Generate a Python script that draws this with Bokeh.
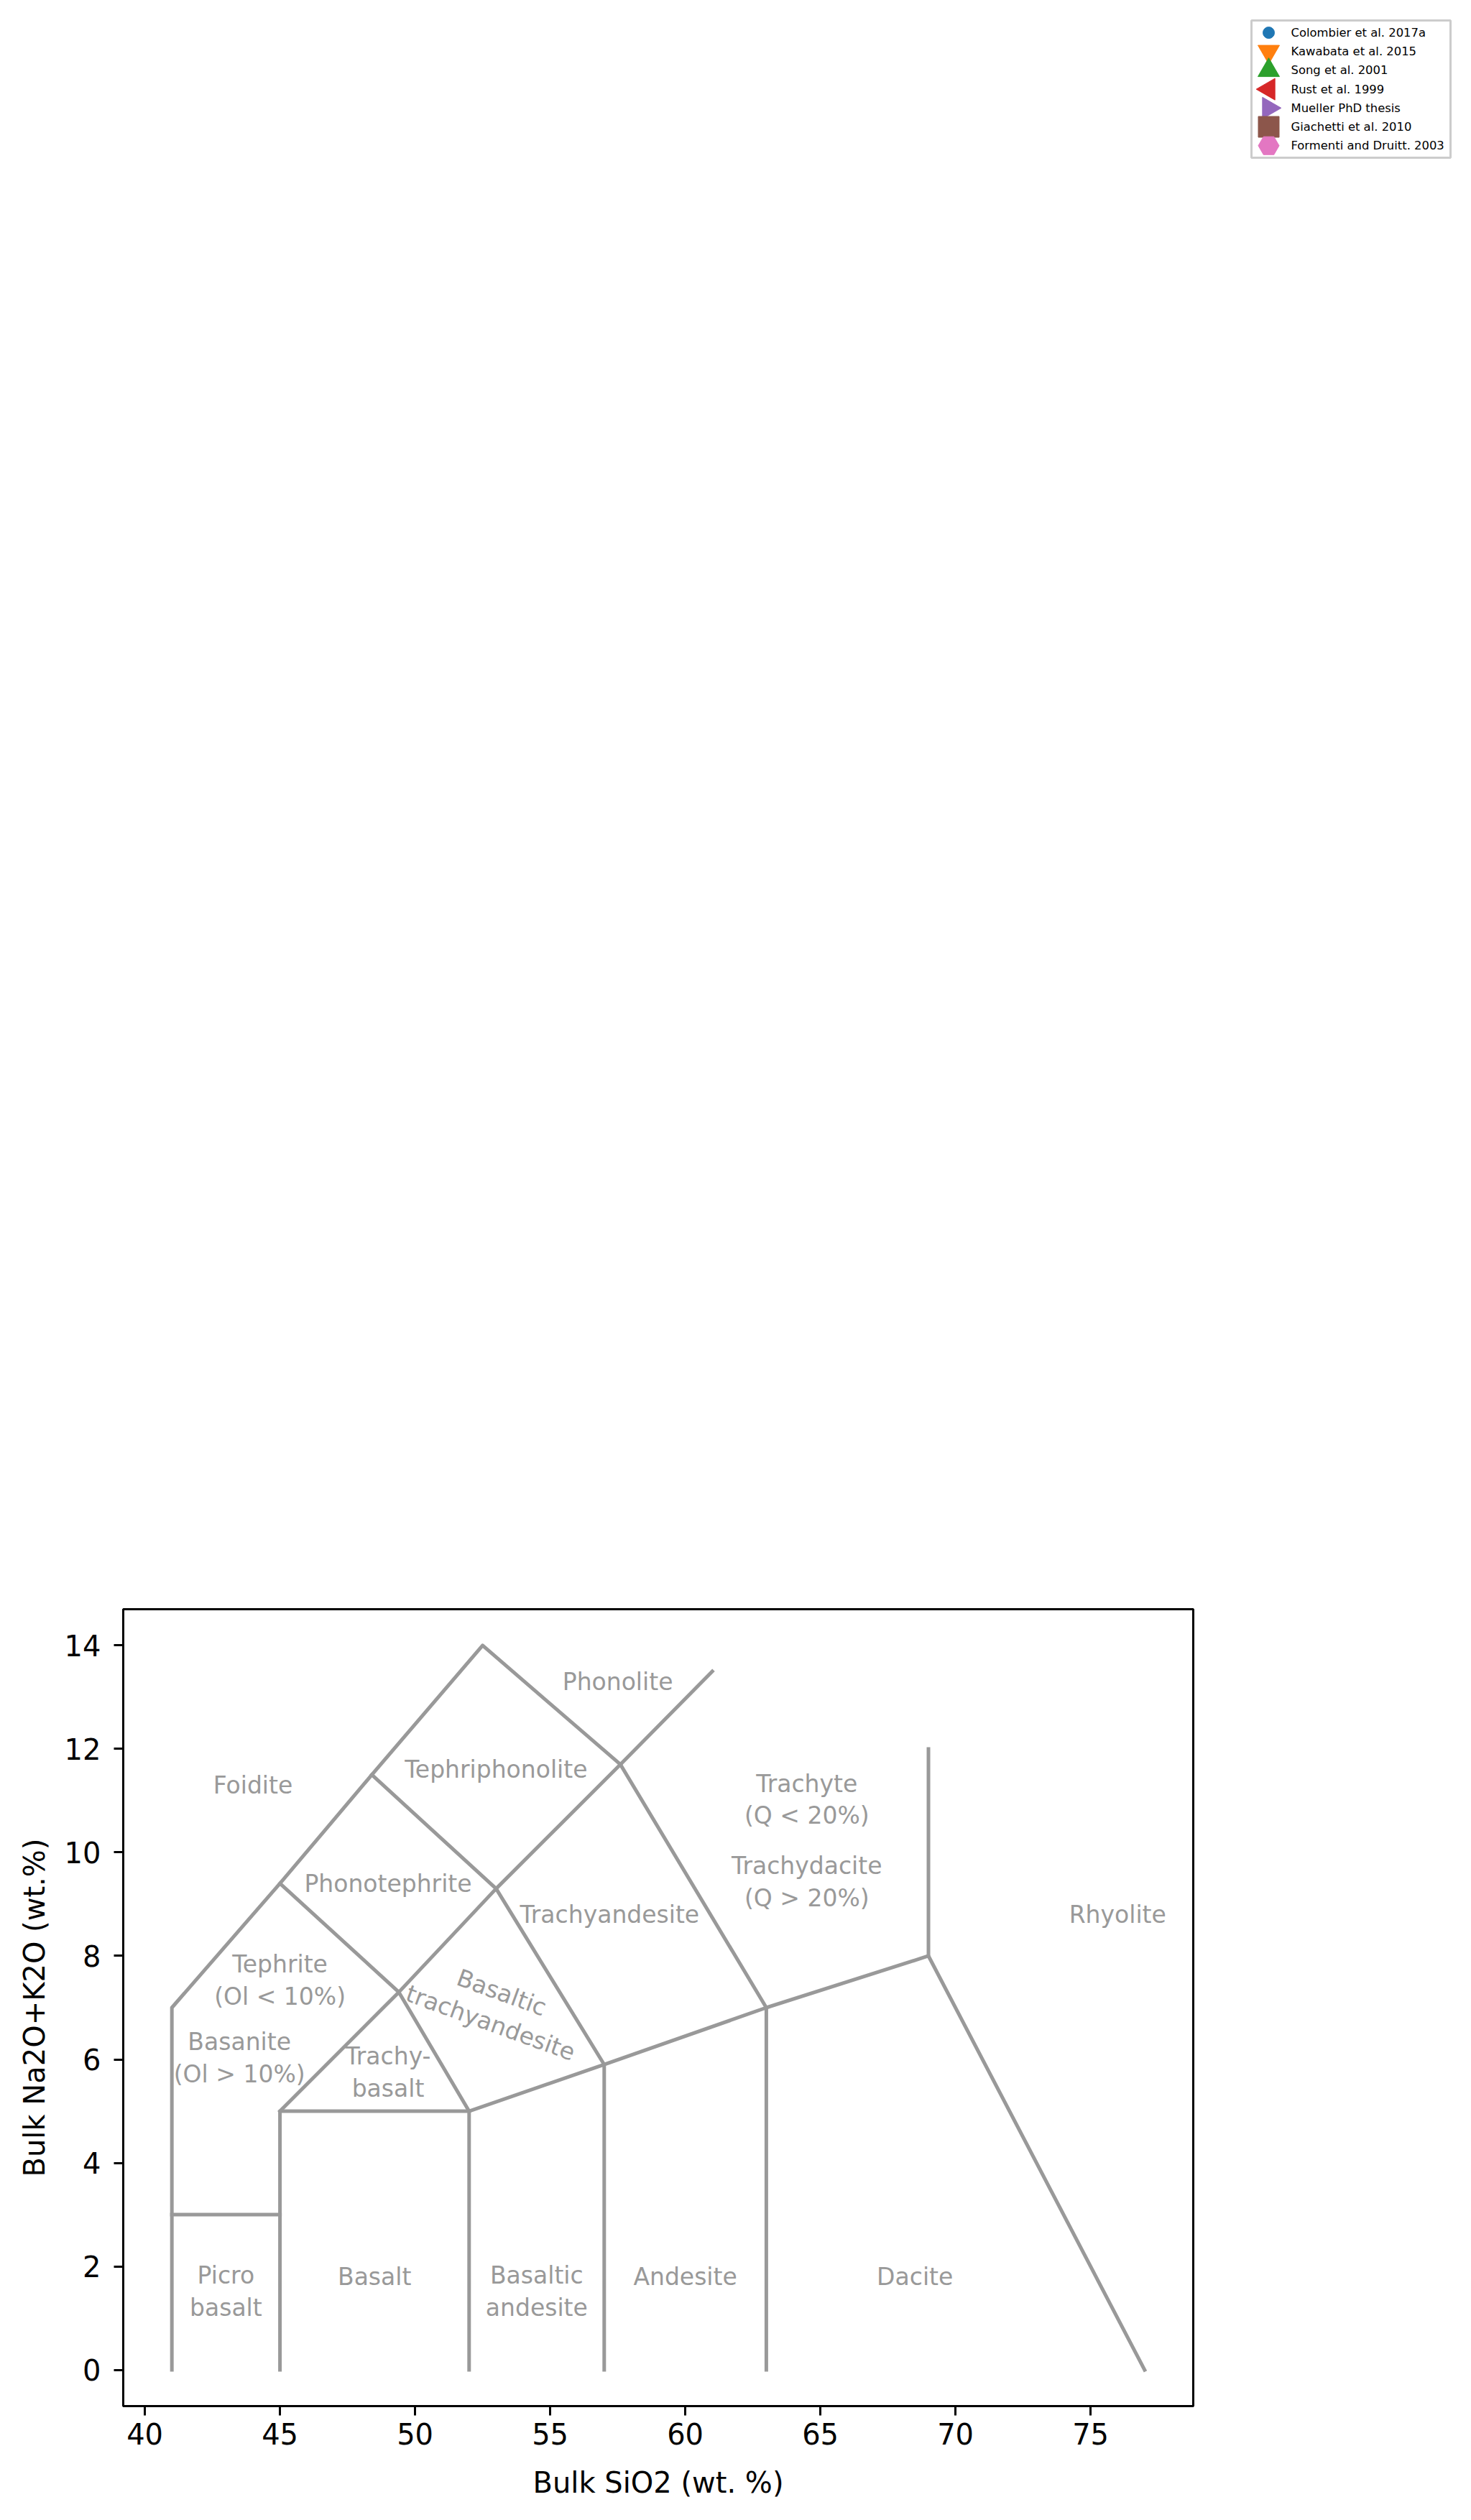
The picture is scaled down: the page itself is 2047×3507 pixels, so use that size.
import math
from bokeh.plotting import figure
from bokeh.layouts import column, row
from bokeh.models import Range1d, FixedTicker, Spacer
from bokeh.core.properties import value
from bokeh.embed import file_html
from bokeh.resources import INLINE

# ---- TAS classification boundaries (SiO2 wt.%, Na2O+K2O wt.%) ----
boundary_sio2 = [
    [41, 41, 45, 48.4, 52.5, 57.6],
    [41, 45],
    [45, 45, 52, 52],
    [45, 49.4, 53, 57.6, 61],
    [45, 49.4, 52],
    [48.4, 53, 57, 57],
    [52, 57, 63, 69, 77],
    [57.6, 63, 63],
    [69, 69],
]
boundary_alk = [
    [0, 7, 9.4, 11.5, 14, 11.7],
    [3, 3],
    [0, 5, 5, 0],
    [5, 7.3, 9.3, 11.7, 13.5],
    [9.4, 7.3, 5],
    [11.5, 9.3, 5.9, 0],
    [5, 5.9, 7, 8, 0],
    [11.7, 7, 0],
    [8, 12],
]

# ---- field names ----
rock_names = ["Foidite", "Tephriphonolite", "Phonolite", "Phonotephrite",
              "Tephrite\n(Ol < 10%)", "Basanite\n(Ol > 10%)", "Trachy-\nbasalt",
              "Trachyandesite", "Trachyte\n(Q < 20%)", "Trachydacite\n(Q > 20%)",
              "Rhyolite", "Picro\nbasalt", "Basalt", "Basaltic\nandesite",
              "Andesite", "Dacite"]
name_sio2 = [44, 53, 57.5, 49, 45, 43.5, 49, 57.2, 64.5, 64.5, 76, 43, 48.5, 54.5, 60, 68.5]
name_alk = [11.3, 11.6, 13.3, 9.4, 7.53, 6.03, 5.75, 8.8, 11.02, 9.43, 8.8, 1.52, 1.8, 1.52, 1.8, 1.8]

rotated_name = ["Basaltic\ntrachyandesite"]
rotated_sio2 = [53.0]
rotated_alk = [7.0]

# ---- data series (no samples are plotted in the reference) ----
series_labels = ["Colombier et al. 2017a", "Kawabata et al. 2015", "Song et al. 2001",
                 "Rust et al. 1999", "Mueller PhD thesis", "Giachetti et al. 2010",
                 "Formenti and Druitt. 2003"]
series_sio2 = [[], [], [], [], [], [], []]
series_alk = [[], [], [], [], [], [], []]

# marker styles per series
series_markers = ["circle", "inverted_triangle", "triangle", "triangle", "triangle", "square", "hex"]
series_angles = [0, 0, 0, math.pi / 2, -math.pi / 2, 0, 0]
series_sizes = [16, 30, 30, 30, 30, 29, 29]
series_colors = ["#1f77b4", "#ff7f0e", "#2ca02c", "#d62728", "#9467bd", "#8c564b", "#e377c2"]

x_ticks = [40, 45, 50, 55, 60, 65, 70, 75]
y_ticks = [0, 2, 4, 6, 8, 10, 12, 14]

FONT = "DejaVu Sans"
GREY = "#999999"

# ---- layout constants (page pixels) ----
LEG_LEFT, LEG_TOP = 1739, 26
LEG_W, LEG_H = 281, 195
TOP_H = LEG_TOP + LEG_H
FRAME_TOP = 2239

p = figure(width=2047, height=3507 - TOP_H,
           x_range=Range1d(39.2, 78.8), y_range=Range1d(-0.7, 14.7),
           output_backend="svg", toolbar_location=None,
           min_border_left=171, min_border_right=387,
           min_border_top=FRAME_TOP - TOP_H, min_border_bottom=159)
p.background_fill_color = "white"
p.border_fill_color = "white"
p.grid.visible = False
p.outline_line_color = "black"
p.outline_line_width = 3

p.multi_line(xs=boundary_sio2, ys=boundary_alk, line_color=GREY, line_width=5,
             line_join="round", line_cap="square")

p.text(x=name_sio2, y=name_alk, text=rock_names, text_font=value(FONT),
       text_font_size="33px", text_color=GREY, text_align="center",
       text_baseline="middle", text_line_height=1.15)
p.text(x=rotated_sio2, y=rotated_alk, text=rotated_name, text_font=value(FONT),
       text_font_size="33px", text_color=GREY, text_align="center",
       text_baseline="middle", text_line_height=1.15, angle=math.radians(-20))

# sample series on the diagram (empty in the reference)
for mk, ang, sz, col, xs, ys in zip(series_markers, series_angles, series_sizes,
                                     series_colors, series_sio2, series_alk):
    p.scatter(x=xs, y=ys, marker=mk, angle=ang, size=sz, fill_color=col, line_color=col)

# ---- legend box (own small canvas at the page's top right) ----
n = len(series_labels)
rows = list(range(n))
lg = figure(width=LEG_W, height=LEG_H, output_backend="svg", toolbar_location=None,
            x_axis_type=None, y_axis_type=None, min_border=2,
            x_range=Range1d(0, LEG_W - 4), y_range=Range1d(n - 0.36, -0.65))
lg.grid.visible = False
lg.outline_line_color = "#cccccc"
lg.outline_line_width = 3
lg.background_fill_color = "white"
lg.border_fill_color = "white"
lg.scatter(x=[24] * n, y=rows, marker=series_markers, angle=series_angles,
           size=series_sizes, fill_color=series_colors, line_color=series_colors)
lg.text(x=[55] * n, y=rows, text=series_labels, text_font=value(FONT),
        text_font_size="16.4px", text_color="black", text_align="left",
        text_baseline="middle")

p.xaxis.ticker = FixedTicker(ticks=x_ticks)
p.yaxis.ticker = FixedTicker(ticks=y_ticks)
p.xaxis.axis_label = "Bulk SiO2 (wt. %)"
p.yaxis.axis_label = "Bulk Na2O+K2O (wt.%)"
for ax in (p.xaxis, p.yaxis):
    ax.axis_line_width = 3
    ax.axis_line_color = "black"
    ax.major_tick_line_width = 3
    ax.major_tick_line_color = "black"
    ax.major_tick_out = 13
    ax.major_tick_in = 0
    ax.minor_tick_line_color = None
    ax.major_label_text_font = FONT
    ax.major_label_text_font_size = "40px"
    ax.major_label_text_color = "black"
    ax.axis_label_text_font = FONT
    ax.axis_label_text_font_size = "40px"
    ax.axis_label_text_font_style = "normal"
    ax.axis_label_text_color = "black"
p.xaxis.major_label_standoff = 10
p.yaxis.major_label_standoff = 18
p.xaxis.axis_label_standoff = 27
p.yaxis.axis_label_standoff = 16

layout = column(
    Spacer(width=2047, height=LEG_TOP),
    row(Spacer(width=LEG_LEFT, height=LEG_H), lg, spacing=0),
    p,
    spacing=0,
)
open("out.html", "w").write(file_html(layout, INLINE))
